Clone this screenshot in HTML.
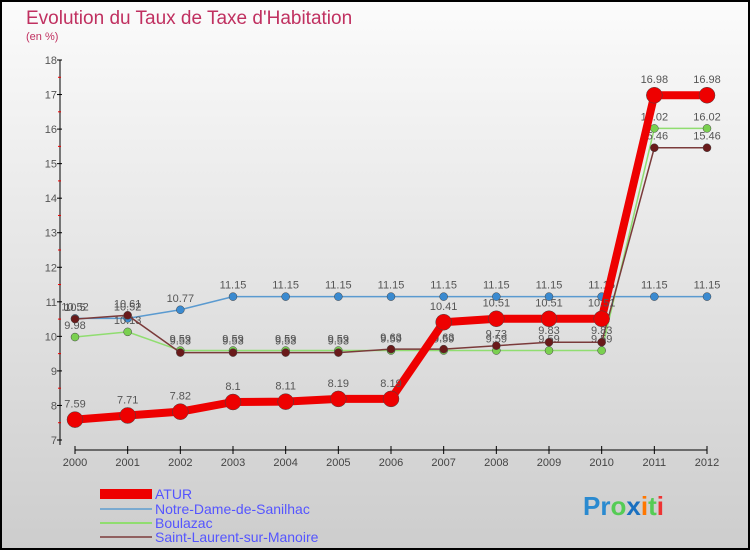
<!DOCTYPE html>
<html><head><meta charset="utf-8"><style>
body{margin:0}
#c{width:750px;height:550px;position:relative;box-sizing:border-box;border:2px solid #000;background:linear-gradient(#fbfbfb,#cdcdcd);font-family:"Liberation Sans",sans-serif;overflow:hidden}
</style></head><body>
<div id="c">
<svg id="s" width="746" height="546" viewBox="2 2 746 546" style="position:absolute;left:0;top:0">
<text x="26" y="24" font-size="19" fill="#c03060">Evolution du Taux de Taxe d'Habitation</text>
<text x="26" y="40" font-size="11" fill="#c03060">(en %)</text>
<g id="axes"></g><g id="series"></g>
<g>
<rect x="100" y="489" width="52" height="10" fill="#e00"/>
<text x="155" y="499" font-size="14" fill="#55f">ATUR</text>
<rect x="100" y="508" width="52" height="2" fill="#7aaad0"/>
<text x="155" y="514" font-size="14" fill="#55f">Notre-Dame-de-Sanilhac</text>
<rect x="100" y="522" width="52" height="2" fill="#90dd70"/>
<text x="155" y="528" font-size="14" fill="#55f">Boulazac</text>
<rect x="100" y="536" width="52" height="2" fill="#906060"/>
<text x="155" y="542" font-size="14" fill="#55f">Saint-Laurent-sur-Manoire</text>
</g>
<text x="583" y="515" font-size="26" font-family="Liberation Sans" font-weight="bold"><tspan fill="#2a8ad0">Pr</tspan><tspan fill="#5c5">o</tspan><tspan fill="#1a70c0">x</tspan><tspan fill="#f70">i</tspan><tspan fill="#5c5">t</tspan><tspan fill="#e33">i</tspan></text>
</svg>
</div>
<script>
const years=[2000,2001,2002,2003,2004,2005,2006,2007,2008,2009,2010,2011,2012];
const yTicks=[7,8,9,10,11,12,13,14,15,16,17,18];
const atur=[7.59,7.71,7.82,8.1,8.11,8.19,8.19,10.41,10.51,10.51,10.51,16.98,16.98];
const nds=[10.52,10.52,10.77,11.15,11.15,11.15,11.15,11.15,11.15,11.15,11.15,11.15,11.15];
const boulazac=[9.98,10.13,9.59,9.59,9.59,9.59,9.59,9.59,9.59,9.59,9.59,16.02,16.02];
const slm=[10.5,10.61,9.53,9.53,9.53,9.53,9.63,9.63,9.73,9.83,9.83,15.46,15.46];
const NS='http://www.w3.org/2000/svg';
const X=i=>75+i*(632/12), Y=v=>440-(v-7)*(380/11);
function mk(t,a,p){const e=document.createElementNS(NS,t);for(const k in a)e.setAttribute(k,a[k]);p.appendChild(e);return e;}
const ax=document.getElementById('axes');
let l=mk('line',{x1:60,y1:60,x2:60,y2:445,stroke:'#000','stroke-width':1},ax);


l=mk('line',{x1:75,y1:450,x2:707,y2:450,stroke:'#000','stroke-width':1},ax);


yTicks.forEach(v=>{
  mk('line',{x1:57,y1:Y(v),x2:62,y2:Y(v),stroke:'#000'},ax);
  if(v<18)mk('line',{x1:58,y1:Y(v+0.5),x2:61,y2:Y(v+0.5),stroke:'#e00'},ax);
  const t=mk('text',{x:57,y:Y(v)+4,'font-size':11,fill:'#555','text-anchor':'end'},ax);t.textContent=v;
  
  
});
years.forEach((y,i)=>{
  mk('line',{x1:X(i),y1:446,x2:X(i),y2:454,stroke:'#000'},ax);
  const t=mk('text',{x:X(i),y:466,'font-size':11,fill:'#444','text-anchor':'middle'},ax);t.textContent=y;
  
  
});
const sg=document.getElementById('series');
function draw(vals,name,color,w,r,dot,lbl){
  const g=mk('g',{},sg);
  
  
  const p=mk('polyline',{points:vals.map((v,i)=>X(i)+','+Y(v)).join(' '),fill:'none',stroke:color,'stroke-width':w,'stroke-linejoin':'round'},g);
  
  
  vals.forEach((v,i)=>{
    const c=mk('circle',{cx:X(i),cy:Y(v),r:r,fill:dot,stroke:'#444','stroke-width':0.5},g);
    
    
    const t=mk('text',{x:X(i),y:Y(v)-(lbl||8),'font-size':11,fill:'#555','text-anchor':'middle'},g);t.textContent=v;
    
    
  });
}
draw(nds,'nds','#5a9ad0',1.5,4,'#3a8ad0');
draw(boulazac,'boulazac','#90dd70',1.5,4,'#7ad050');
draw(slm,'slm','#7a3a3a',1.5,4,'#6a1a1a');
draw(atur,'atur','#ee0000',8,8,'#ee0000',12);
</script>
</body></html>
